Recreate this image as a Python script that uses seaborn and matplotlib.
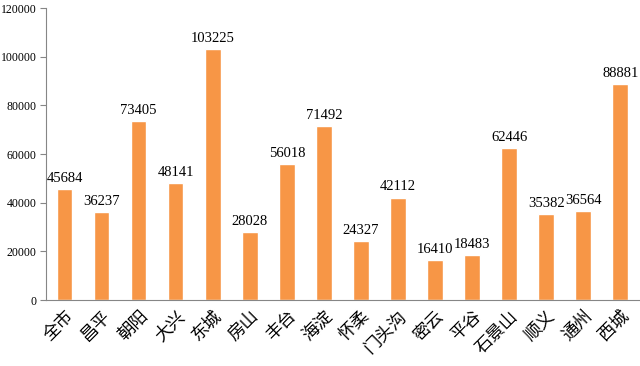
import matplotlib
matplotlib.use("Agg")
import matplotlib.pyplot as plt
import seaborn as sns
import pandas as pd

# district names and values
districts = ['全市', '昌平', '朝阳', '大兴', '东城', '房山', '丰台', '海淀',
             '怀柔', '门头沟', '密云', '平谷', '石景山', '顺义', '通州', '西城']
values = [45684, 36237, 73405, 48141, 103225, 28028, 56018, 71492,
          24327, 42112, 16410, 18483, 62446, 35382, 36564, 88881]
yticks = [0, 20000, 40000, 60000, 80000, 100000, 120000]

sns.set_style("white")
plt.rcParams['font.family'] = ['Liberation Serif', 'Noto Sans CJK SC', 'DejaVu Sans']
plt.rcParams['text.color'] = 'black'
plt.rcParams['xtick.color'] = 'black'
plt.rcParams['ytick.color'] = 'black'

df = pd.DataFrame({'district': districts, 'value': values})

fig = plt.figure(figsize=(6.4, 3.66), dpi=100)
ax = fig.add_axes([0.072, 0.18, 0.926, 0.798])

sns.barplot(data=df, x='district', y='value', color='#F79646', saturation=1,
            width=0.42, ax=ax)

for c in ax.containers:
    ax.bar_label(c, labels=[str(v) for v in values], padding=3, fontsize=10.5,
                 color='black')

ax.set_ylim(0, 120000)
ax.set_xlim(-0.5, len(districts) - 0.5)
ax.set_yticks(yticks)
ax.set_yticklabels([str(t) for t in yticks], fontsize=8.5)
ax.set_xlabel('')
ax.set_ylabel('')

ax.set_xticks(range(len(districts)))
ax.set_xticklabels(districts, rotation=45, ha='right', rotation_mode='anchor',
                   fontsize=12.5, family=['Noto Sans CJK SC'])
ax.tick_params(axis='x', which='major', length=0, pad=5)
ax.set_xticks([i + 0.5 for i in range(-1, len(districts))], minor=True)
ax.tick_params(axis='x', which='minor', length=5, color='#868686', direction='out')
ax.tick_params(axis='y', length=4, color='#868686', direction='out', left=True, pad=3)

for s in ['top', 'right']:
    ax.spines[s].set_visible(False)
for s in ['left', 'bottom']:
    ax.spines[s].set_color('#868686')
    ax.spines[s].set_linewidth(0.8)

fig.savefig('out.png', dpi=100)
